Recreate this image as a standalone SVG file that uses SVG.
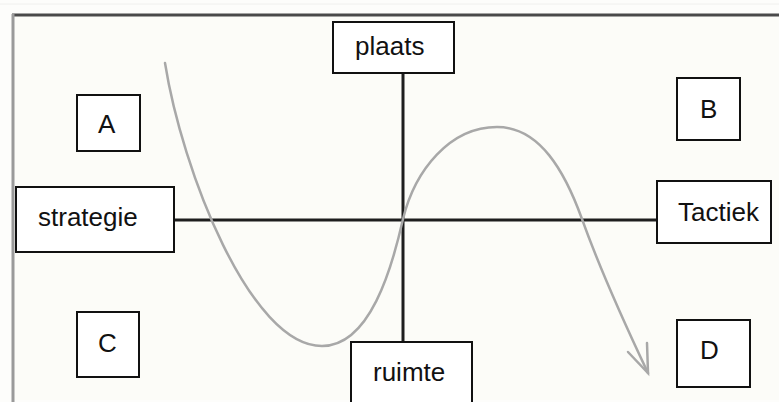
<svg xmlns="http://www.w3.org/2000/svg" width="779" height="402" viewBox="0 0 779 402">
  <style>
    .box { fill: #ffffff; stroke: #111111; stroke-width: 2; }
    .lbl { font-family: "Liberation Sans", Arial, sans-serif; font-size: 26px; fill: #111111; }
    .axis { stroke: #1e1e1e; stroke-width: 3; fill: none; }
    .curve { stroke: #a8a8a8; stroke-width: 2.5; fill: none; stroke-linecap: round; }
  </style>
  <rect x="0" y="0" width="779" height="402" fill="#fdfdfb"/>
  <rect x="13" y="15" width="766" height="385" fill="#fcfcf8"/>
  <line x1="0" y1="4" x2="779" y2="4" stroke="#f0f0ee" stroke-width="1"/>
  <line x1="12" y1="15" x2="779" y2="15" stroke="#4a4a4a" stroke-width="3"/>
  <line x1="13" y1="14" x2="13" y2="402" stroke="#9a9a9a" stroke-width="3"/>

  <g id="connectors">
    <line class="axis" x1="174" y1="220" x2="658" y2="220"/>
    <line class="axis" x1="403" y1="73" x2="403" y2="342" stroke="#2e2e2e"/>
    <path class="curve" d="M165,63 C182,170 250,346 322,346 C370,346 392,268 403,219 C415,170 450,127 497,127 C540,127 565,172 582,219 C602,275 630,335 648,373"/>
    <path class="curve" d="M628,352 L648,373 L647,343"/>
  </g>

  <g id="plaats"><rect class="box" x="333" y="22" width="121" height="51"/><text class="lbl" x="355" y="55">plaats</text></g>
  <g id="A"><rect class="box" x="77" y="95" width="63" height="56"/><text class="lbl" x="98" y="133">A</text></g>
  <g id="B"><rect class="box" x="677" y="78" width="63" height="62"/><text class="lbl" x="700" y="118">B</text></g>
  <g id="strategie"><rect class="box" x="16" y="187" width="158" height="65"/><text class="lbl" x="38" y="226">strategie</text></g>
  <g id="Tactiek"><rect class="box" x="657" y="181" width="114" height="62"/><text class="lbl" x="678" y="221">Tactiek</text></g>
  <g id="C"><rect class="box" x="77" y="312" width="62" height="65"/><text class="lbl" x="98" y="352">C</text></g>
  <g id="D"><rect class="box" x="677" y="320" width="73" height="67"/><text class="lbl" x="700" y="359">D</text></g>
  <g id="ruimte"><rect class="box" x="351" y="342" width="121" height="62"/><text class="lbl" x="373" y="381">ruimte</text></g>
</svg>
